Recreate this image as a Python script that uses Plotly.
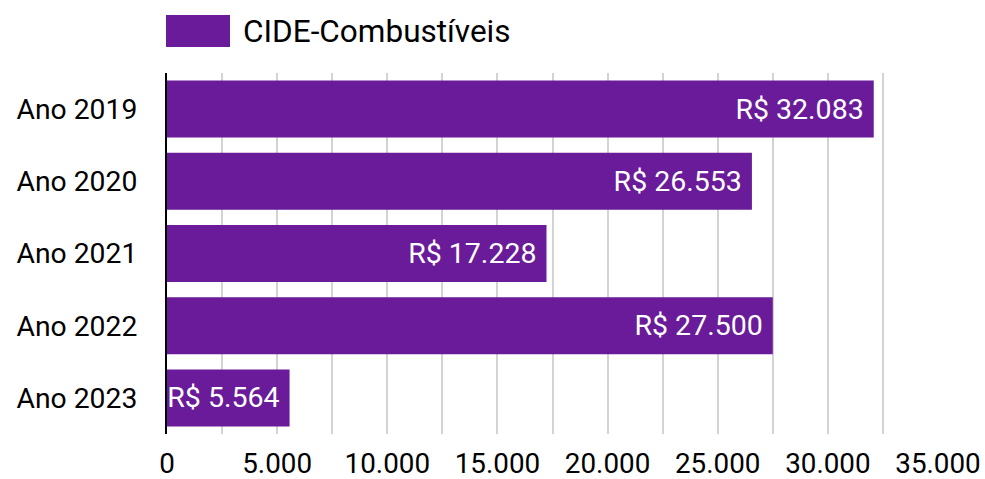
import plotly.graph_objects as go

categories = ["Ano 2019", "Ano 2020", "Ano 2021", "Ano 2022", "Ano 2023"]
values = [32083, 26553, 17228, 27500, 5564]
series_name = "CIDE-Combustíveis"
bar_color = "#6A1B9A"

labels = ["R$ " + f"{v:,}".replace(",", ".") + "\u00a0" for v in values]

W, H = 985, 479
ml, mr, mt, mb = 167, 47, 73, 45
pw, ph = W - ml - mr, H - mt - mb

def px_x(px):
    return (px - ml) / pw

def px_y(py):
    return (H - mb - py) / ph

fig = go.Figure()
fig.add_trace(go.Bar(
    y=categories, x=values, orientation="h",
    name=series_name, marker=dict(color=bar_color, line=dict(width=0)),
    text=labels, textposition="inside", insidetextanchor="end",
    constraintext="none",
    textfont=dict(color="white", size=28.5, family="Roboto"),
    showlegend=False,
))

fig.update_layout(
    width=W, height=H,
    margin=dict(l=ml, r=mr, t=mt, b=mb),
    paper_bgcolor="white", plot_bgcolor="white",
    font=dict(family="Roboto", size=28.3, color="#000000"),
    separators=",.",
    bargap=0.21,
    xaxis=dict(
        range=[0, 35000], dtick=5000, tick0=0, tickformat=",d",
        showgrid=True, gridcolor="#d3d3d3", gridwidth=2,
        minor=dict(dtick=2500, showgrid=True, gridcolor="#d3d3d3", gridwidth=2),
        zeroline=False, showline=False, ticks="", ticklabelstandoff=10,
        tickfont=dict(size=27.8),
        automargin=False, fixedrange=True,
    ),
    yaxis=dict(
        autorange="reversed", showgrid=False, ticks="",
        showline=True, linecolor="#000000", linewidth=2,
        ticklabelstandoff=22, zeroline=False, automargin=False,
    ),
    shapes=[dict(
        type="rect", xref="paper", yref="paper",
        x0=px_x(166), x1=px_x(230), y0=px_y(47), y1=px_y(15),
        fillcolor=bar_color, line=dict(width=0),
    )],
    annotations=[dict(
        xref="paper", yref="paper", x=px_x(241), y=px_y(31),
        xanchor="left", yanchor="middle", text=series_name,
        showarrow=False, font=dict(size=31.5, color="#000000", family="Roboto"),
    )],
)

fig.write_html("out.html")
